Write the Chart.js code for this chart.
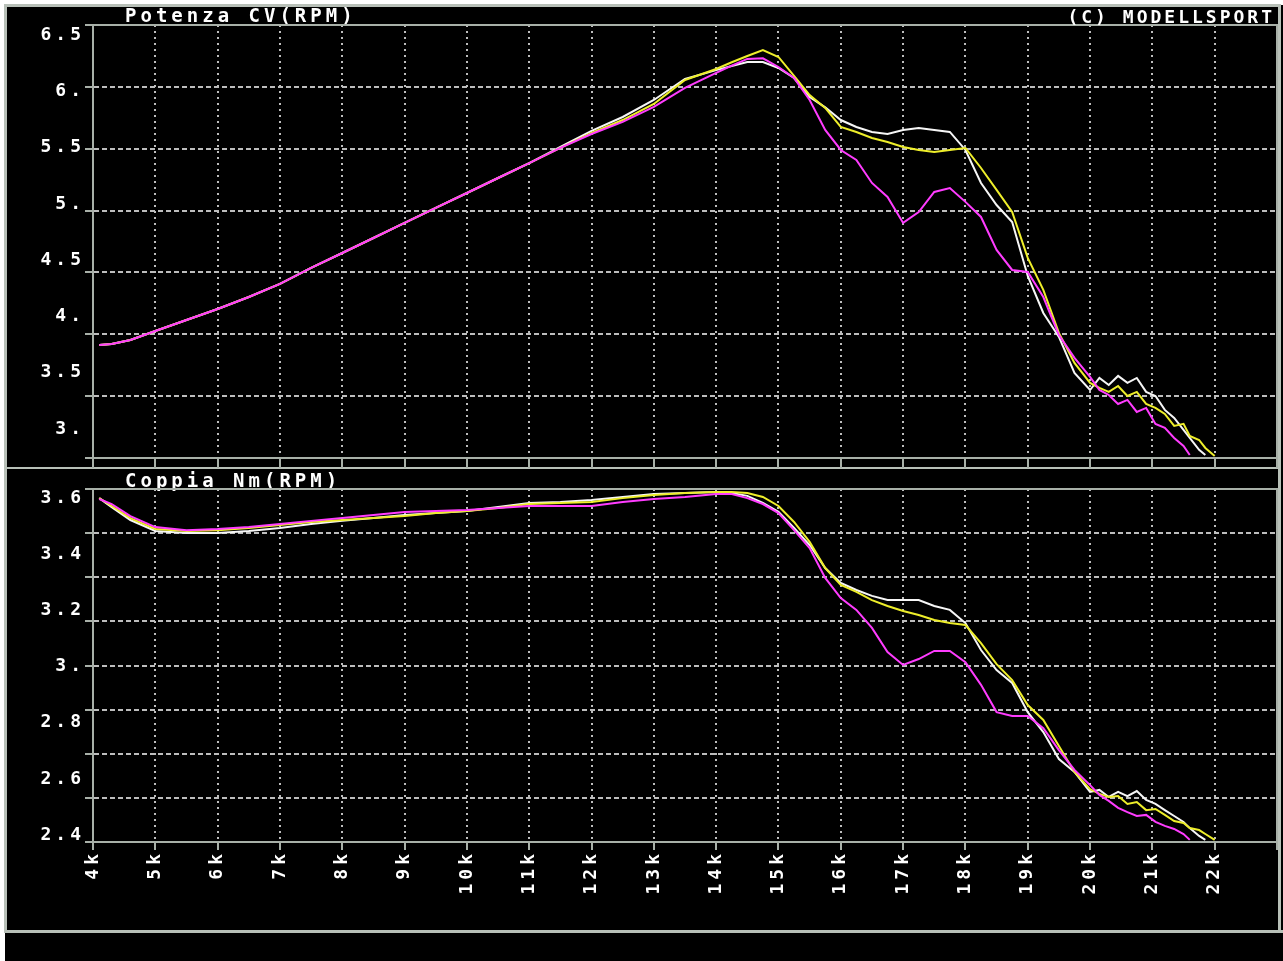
<!DOCTYPE html>
<html>
<head>
<meta charset="utf-8">
<script src="https://cdn.jsdelivr.net/npm/chart.js@4/dist/chart.umd.min.js"></script>
<style>
  body { margin: 0; background: #fff; }
  .ln { position: absolute; background: #b8c0b8; }
  canvas { position: absolute; left: 0; }
</style>
</head>
<body>
<div style="position:absolute;left:5px;top:5px;width:1278px;height:956px;background:#000"></div>
<div class="ln" style="left:4px;top:4px;width:1277px;height:3px"></div>
<div class="ln" style="left:4px;top:4px;width:3px;height:929px"></div>
<div class="ln" style="left:1278px;top:4px;width:3px;height:929px"></div>
<div class="ln" style="left:4px;top:930px;width:1279px;height:3px"></div>
<div class="ln" style="left:4px;top:467px;width:1277px;height:2px"></div>
<canvas id="powerChart" width="1283" height="468" style="top:0"></canvas>
<canvas id="torqueChart" width="1283" height="464" style="top:468px"></canvas>
<script>
// RPM sample points, shared by all runs
var rpm = [4100, 4300, 4600, 5000, 5500, 6000, 6500, 7000, 7500, 8000,
  8500, 9000, 9500, 10000, 10500, 11000, 11500, 12000, 12500, 13000,
  13500, 14000, 14250, 14500, 14750, 15000, 15250, 15500, 15750, 16000,
  16250, 16500, 16750, 17000, 17250, 17500, 17750, 18000, 18250, 18500,
  18750, 19000, 19250, 19500, 19750, 20000, 20150, 20300, 20450, 20600,
  20750, 20900, 21050, 21200, 21350, 21500, 21600, 21750, 21850, 22000];

// Potenza CV - three runs
var powerWhite = [3.729, 3.738, 3.773, 3.853, 3.951, 4.049, 4.155, 4.271, 4.413, 4.546,
  4.679, 4.813, 4.946, 5.079, 5.212, 5.345, 5.488, 5.630, 5.754, 5.905,
  6.092, 6.170, 6.207, 6.242, 6.242, 6.189, 6.100, 5.932, 5.840, 5.727,
  5.665, 5.621, 5.603, 5.639, 5.656, 5.639, 5.621, 5.461, 5.168, 4.972,
  4.821, 4.342, 4.013, 3.800, 3.480, 3.329, 3.436, 3.374, 3.454, 3.392,
  3.436, 3.312, 3.276, 3.152, 3.081, 2.974, 2.903, 2.797, 2.752, null];
var powerYellow = [3.729, 3.738, 3.773, 3.853, 3.951, 4.049, 4.155, 4.271, 4.413, 4.546,
  4.679, 4.813, 4.946, 5.079, 5.212, 5.345, 5.479, 5.612, 5.727, 5.870,
  6.083, 6.180, 6.240, 6.296, 6.349, 6.287, 6.120, 5.949, 5.834, 5.665,
  5.621, 5.568, 5.532, 5.488, 5.461, 5.443, 5.461, 5.479, 5.301, 5.106,
  4.910, 4.502, 4.218, 3.836, 3.569, 3.392, 3.347, 3.312, 3.365, 3.276,
  3.312, 3.205, 3.170, 3.116, 3.010, 3.028, 2.921, 2.885, 2.814, 2.743];
var powerMagenta = [3.729, 3.738, 3.773, 3.853, 3.951, 4.049, 4.155, 4.271, 4.413, 4.546,
  4.679, 4.813, 4.946, 5.079, 5.212, 5.345, 5.479, 5.603, 5.710, 5.843,
  6.012, 6.145, 6.210, 6.270, 6.275, 6.198, 6.100, 5.905, 5.639, 5.461,
  5.372, 5.168, 5.044, 4.813, 4.910, 5.088, 5.123, 5.000, 4.866, 4.573,
  4.395, 4.377, 4.155, 3.818, 3.614, 3.445, 3.329, 3.285, 3.205, 3.241,
  3.134, 3.170, 3.028, 2.992, 2.903, 2.832, 2.752, null, null, null];

// Coppia Nm - three runs
var torqueWhite = [3.596, 3.564, 3.518, 3.479, 3.472, 3.472, 3.479, 3.490, 3.504, 3.515,
  3.525, 3.536, 3.543, 3.550, 3.564, 3.579, 3.582, 3.589, 3.600, 3.611,
  3.614, 3.618, 3.614, 3.604, 3.579, 3.547, 3.490, 3.429, 3.347, 3.294,
  3.269, 3.248, 3.233, 3.233, 3.233, 3.212, 3.198, 3.151, 3.055, 2.984,
  2.938, 2.834, 2.763, 2.667, 2.621, 2.550, 2.557, 2.532, 2.550, 2.535,
  2.553, 2.521, 2.507, 2.485, 2.464, 2.443, 2.421, 2.393, 2.379, null];
var torqueYellow = [3.596, 3.568, 3.525, 3.486, 3.479, 3.482, 3.490, 3.500, 3.511, 3.518,
  3.525, 3.532, 3.543, 3.550, 3.561, 3.575, 3.579, 3.582, 3.596, 3.607,
  3.614, 3.618, 3.618, 3.614, 3.600, 3.568, 3.511, 3.440, 3.347, 3.287,
  3.262, 3.233, 3.212, 3.194, 3.180, 3.162, 3.151, 3.144, 3.080, 3.005,
  2.948, 2.859, 2.806, 2.713, 2.621, 2.560, 2.543, 2.532, 2.535, 2.507,
  2.514, 2.485, 2.489, 2.468, 2.446, 2.439, 2.421, 2.414, 2.400, 2.379];
var torqueMagenta = [3.593, 3.575, 3.532, 3.493, 3.482, 3.486, 3.493, 3.504, 3.515, 3.525,
  3.536, 3.547, 3.550, 3.554, 3.561, 3.568, 3.568, 3.568, 3.582, 3.593,
  3.600, 3.611, 3.611, 3.596, 3.575, 3.543, 3.482, 3.418, 3.312, 3.240,
  3.198, 3.134, 3.048, 3.002, 3.023, 3.052, 3.052, 3.012, 2.931, 2.834,
  2.820, 2.820, 2.777, 2.699, 2.628, 2.574, 2.539, 2.518, 2.493, 2.478,
  2.464, 2.468, 2.443, 2.429, 2.418, 2.400, 2.379, null, null, null];

// Tick values and labels
var rpmTicks = [4000, 5000, 6000, 7000, 8000, 9000, 10000, 11000, 12000, 13000,
  14000, 15000, 16000, 17000, 18000, 19000, 20000, 21000, 22000];
var rpmTickLabels = ['4k', '5k', '6k', '7k', '8k', '9k', '10k', '11k', '12k', '13k',
  '14k', '15k', '16k', '17k', '18k', '19k', '20k', '21k', '22k'];
var powerTicks = [6.5, 6, 5.5, 5, 4.5, 4, 3.5, 3];
var powerTickLabels = ['6.5', '6.', '5.5', '5.', '4.5', '4.', '3.5', '3.'];
var torqueTicks = [3.6, 3.4, 3.2, 3, 2.8, 2.6, 2.4];
var torqueTickLabels = ['3.6', '3.4', '3.2', '3.', '2.8', '2.6', '2.4'];

// Look
var AXIS_COLOR = '#a8b0a8';
var GRID_COLOR = '#bdbdbd';
var FONT_FAMILY = '"DejaVu Sans Mono", "Liberation Mono", monospace';
var TICK_FONT = { family: FONT_FAMILY, size: 18, weight: 'bold', lineHeight: 1 };

// Draws the plot box, the note text and moves the title
var framePlugin = {
  id: 'frame',
  afterLayout: function(chart, args, opts) {
    var t = chart.titleBlock;
    if (!t) return;
    t.left = opts.titleLeft;
    t.top += opts.titleDown;
    t.bottom += opts.titleDown;
  },
  beforeDraw: function(chart) {
    chart.ctx.letterSpacing = '4px';
  },
  beforeDatasetsDraw: function(chart, args, opts) {
    var ctx = chart.ctx, a = chart.chartArea;
    ctx.save();
    ctx.strokeStyle = AXIS_COLOR;
    ctx.lineWidth = 2;
    ctx.setLineDash([]);
    ctx.beginPath();
    ctx.moveTo(a.left, a.bottom);
    ctx.lineTo(a.left, a.top);
    ctx.moveTo(a.left - 8, a.top);
    ctx.lineTo(a.right, a.top);
    ctx.lineTo(a.right, a.bottom + opts.rightExtra);
    ctx.moveTo(a.left - 8, a.bottom);
    ctx.lineTo(a.right, a.bottom);
    ctx.stroke();
    ctx.restore();
  },
  afterDraw: function(chart, args, opts) {
    if (!opts.note) return;
    var ctx = chart.ctx;
    ctx.save();
    ctx.letterSpacing = '3px';
    ctx.font = 'bold 18px ' + FONT_FAMILY;
    ctx.fillStyle = '#ffffff';
    ctx.textAlign = 'right';
    ctx.textBaseline = 'middle';
    ctx.fillText(opts.note, opts.noteRight, opts.noteY);
    ctx.restore();
  }
};

function makeSeries(name, values, color) {
  return {
    label: name,
    data: rpm.map(function(r, i) { return { x: r, y: values[i] }; }),
    borderColor: color,
    borderWidth: 2,
    pointRadius: 0,
    tension: 0
  };
}

function rpmAxis(showLabels, tickLen, height) {
  return {
    type: 'linear', position: 'bottom', min: 4000, max: 23000,
    afterBuildTicks: function(s) { s.ticks = rpmTicks.map(function(v) { return { value: v }; }); },
    ticks: {
      display: showLabels, color: '#ffffff', font: TICK_FONT, padding: 0,
      minRotation: 90, maxRotation: 90, autoSkip: false,
      callback: function(v) { return rpmTickLabels[rpmTicks.indexOf(v)]; }
    },
    grid: { color: GRID_COLOR, lineWidth: 2, tickLength: tickLen, tickColor: AXIS_COLOR, tickWidth: 2 },
    border: { display: true, color: AXIS_COLOR, width: 2, dash: [2, 4] },
    afterFit: function(s) { s.height = height; }
  };
}

function labelAxis(min, max, values, labels, shiftDown) {
  return {
    type: 'linear', position: 'left', weight: 1, min: min, max: max,
    afterBuildTicks: function(s) { s.ticks = values.map(function(v) { return { value: v }; }); },
    ticks: {
      color: '#ffffff', font: TICK_FONT, padding: -8, labelOffset: shiftDown, autoSkip: false,
      callback: function(v) { return labels[values.indexOf(v)]; }
    },
    grid: { display: false },
    border: { display: false },
    afterFit: function(s) { s.width = 85; }
  };
}

function gridAxis(steps) {
  return {
    type: 'linear', axis: 'y', position: 'left', weight: 0, min: 0, max: steps,
    ticks: { display: false, stepSize: 1 },
    grid: { color: GRID_COLOR, lineWidth: 2, tickLength: 8, tickColor: AXIS_COLOR, tickWidth: 2 },
    border: { display: true, color: AXIS_COLOR, width: 2, dash: [5, 3] },
    afterFit: function(s) { s.width = 8; }
  };
}

function makeChart(canvasId, titleText, titlePad, white, yellow, magenta, yAxis, gridSteps, xAxis, frameOpts) {
  return new Chart(document.getElementById(canvasId), {
    type: 'line',
    data: {
      datasets: [
        makeSeries('magenta', magenta, '#ff3cff'),
        makeSeries('yellow', yellow, '#eeee2a'),
        makeSeries('white', white, '#f6f6f6')
      ]
    },
    options: {
      responsive: false,
      animation: false,
      events: [],
      layout: { padding: { left: 0, right: 6, top: 0, bottom: 0 } },
      scales: { x: xAxis, y: yAxis, yg: gridAxis(gridSteps) },
      plugins: {
        legend: { display: false },
        tooltip: { enabled: false },
        title: {
          display: true, text: titleText, align: 'start', color: '#ffffff',
          font: { family: FONT_FAMILY, size: 19, weight: 'bold', lineHeight: 1 },
          padding: titlePad
        },
        frame: frameOpts
      }
    },
    plugins: [framePlugin]
  });
}

var powerChart = makeChart('powerChart', 'Potenza CV(RPM)', { top: 5, bottom: 1 },
  powerWhite, powerYellow, powerMagenta,
  labelAxis(2.725, 6.571, powerTicks, powerTickLabels, 2), 7,
  rpmAxis(false, 10, 10),
  { titleLeft: 125, titleDown: 3, rightExtra: 10, note: '(C) MODELLSPORT', noteRight: 1275, noteY: 18 });

var torqueChart = makeChart('torqueChart', 'Coppia Nm(RPM)', { top: 2, bottom: 0 },
  torqueWhite, torqueYellow, torqueMagenta,
  labelAxis(2.3715, 3.6285, torqueTicks, torqueTickLabels, 1), 8,
  rpmAxis(true, 8, 90),
  { titleLeft: 125, titleDown: 3, rightExtra: 8 });
</script>
</body>
</html>
